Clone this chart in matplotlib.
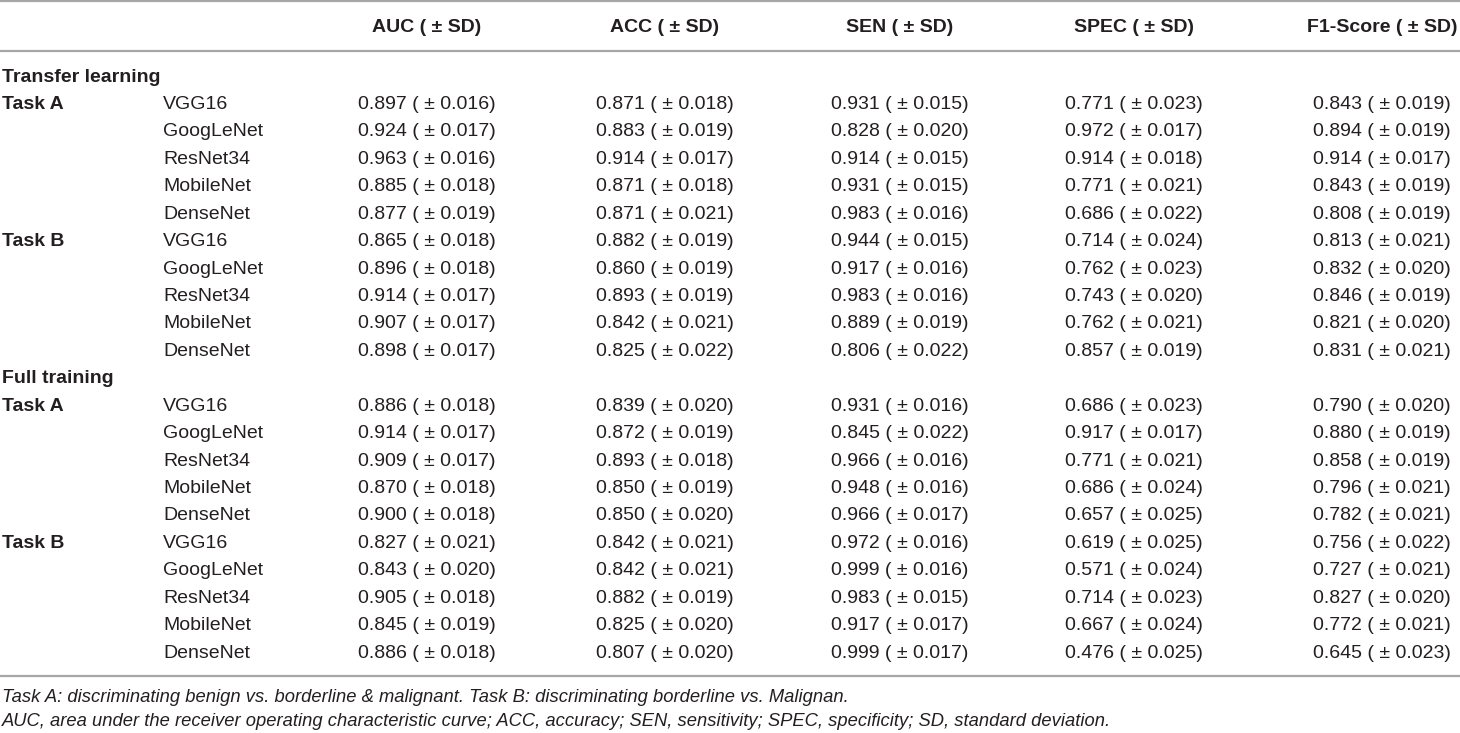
import matplotlib
matplotlib.use("Agg")
import matplotlib.pyplot as plt
from matplotlib import font_manager

# table content
metrics = ["AUC", "ACC", "SEN", "SPEC", "F1-Score"]
models = ["VGG16", "GoogLeNet", "ResNet34", "MobileNet", "DenseNet"]
sections = ["Transfer learning", "Full training"]
tasks = ["Task A", "Task B"]

# mean values, rows = models, cols = metrics
tl_a_mean = [[0.897, 0.871, 0.931, 0.771, 0.843],
             [0.924, 0.883, 0.828, 0.972, 0.894],
             [0.963, 0.914, 0.914, 0.914, 0.914],
             [0.885, 0.871, 0.931, 0.771, 0.843],
             [0.877, 0.871, 0.983, 0.686, 0.808]]
tl_a_sd = [[0.016, 0.018, 0.015, 0.023, 0.019],
           [0.017, 0.019, 0.020, 0.017, 0.019],
           [0.016, 0.017, 0.015, 0.018, 0.017],
           [0.018, 0.018, 0.015, 0.021, 0.019],
           [0.019, 0.021, 0.016, 0.022, 0.019]]
tl_b_mean = [[0.865, 0.882, 0.944, 0.714, 0.813],
             [0.896, 0.860, 0.917, 0.762, 0.832],
             [0.914, 0.893, 0.983, 0.743, 0.846],
             [0.907, 0.842, 0.889, 0.762, 0.821],
             [0.898, 0.825, 0.806, 0.857, 0.831]]
tl_b_sd = [[0.018, 0.019, 0.015, 0.024, 0.021],
           [0.018, 0.019, 0.016, 0.023, 0.020],
           [0.017, 0.019, 0.016, 0.020, 0.019],
           [0.017, 0.021, 0.019, 0.021, 0.020],
           [0.017, 0.022, 0.022, 0.019, 0.021]]
ft_a_mean = [[0.886, 0.839, 0.931, 0.686, 0.790],
             [0.914, 0.872, 0.845, 0.917, 0.880],
             [0.909, 0.893, 0.966, 0.771, 0.858],
             [0.870, 0.850, 0.948, 0.686, 0.796],
             [0.900, 0.850, 0.966, 0.657, 0.782]]
ft_a_sd = [[0.018, 0.020, 0.016, 0.023, 0.020],
           [0.017, 0.019, 0.022, 0.017, 0.019],
           [0.017, 0.018, 0.016, 0.021, 0.019],
           [0.018, 0.019, 0.016, 0.024, 0.021],
           [0.018, 0.020, 0.017, 0.025, 0.021]]
ft_b_mean = [[0.827, 0.842, 0.972, 0.619, 0.756],
             [0.843, 0.842, 0.999, 0.571, 0.727],
             [0.905, 0.882, 0.983, 0.714, 0.827],
             [0.845, 0.825, 0.917, 0.667, 0.772],
             [0.886, 0.807, 0.999, 0.476, 0.645]]
ft_b_sd = [[0.021, 0.021, 0.016, 0.025, 0.022],
           [0.020, 0.021, 0.016, 0.024, 0.021],
           [0.018, 0.019, 0.015, 0.023, 0.020],
           [0.019, 0.020, 0.017, 0.024, 0.021],
           [0.018, 0.020, 0.017, 0.025, 0.023]]

footnotes = ["Task A: discriminating benign vs. borderline & malignant. Task B: discriminating borderline vs. Malignan.",
             "AUC, area under the receiver operating characteristic curve; ACC, accuracy; SEN, sensitivity; "
             "SPEC, specificity; SD, standard deviation."]

blocks = [(tl_a_mean, tl_a_sd), (tl_b_mean, tl_b_sd), (ft_a_mean, ft_a_sd), (ft_b_mean, ft_b_sd)]

installed = {f.name for f in font_manager.fontManager.ttflist}
body_font = "Liberation Sans" if "Liberation Sans" in installed else "DejaVu Sans"
note_font = "Liberation Sans Narrow" if "Liberation Sans Narrow" in installed else body_font
note_fs = 14 if note_font != body_font else 13.2

W, H = 1460, 733
fig = plt.figure(figsize=(W / 100, H / 100), dpi=100)
ax = fig.add_axes([0, 0, 1, 1])
ax.set_xlim(0, W)
ax.set_ylim(H, 0)
ax.axis("off")

txt = "#231f20"
rule = "#a6a6a6"
fs = 14
col_x = [427, 665, 900, 1134, 1382]

for y in (1, 51, 676):
    ax.axhline(y, color=rule, lw=1.6)

for cx, m in zip(col_x, metrics):
    ax.text(cx, 27, m + " ( \u00b1 SD)", ha="center", va="center",
            fontsize=fs, fontweight="bold", color=txt, family=body_font)

y0, dy = 77, 27.43
row = 0
for s, sec in enumerate(sections):
    ax.text(2, y0 + row * dy, sec, ha="left", va="center", fontsize=fs,
            fontweight="bold", color=txt, family=body_font)
    row += 1
    for t, task in enumerate(tasks):
        mean, sd = blocks[s * 2 + t]
        ax.text(2, y0 + row * dy, task, ha="left", va="center", fontsize=fs,
                fontweight="bold", color=txt, family=body_font)
        for i, name in enumerate(models):
            y = y0 + row * dy
            ax.text(163, y, name, ha="left", va="center", fontsize=fs,
                    color=txt, family=body_font)
            for j, cx in enumerate(col_x):
                ax.text(cx, y, f"{mean[i][j]:.3f} ( \u00b1 {sd[i][j]:.3f})",
                        ha="center", va="center", fontsize=fs, color=txt,
                        family=body_font)
            row += 1

for k, note in enumerate(footnotes):
    ax.text(2, 697 + k * 24, note, ha="left", va="center", fontsize=note_fs,
            style="italic", color=txt, family=note_font)

fig.savefig("out.png", dpi=100)
